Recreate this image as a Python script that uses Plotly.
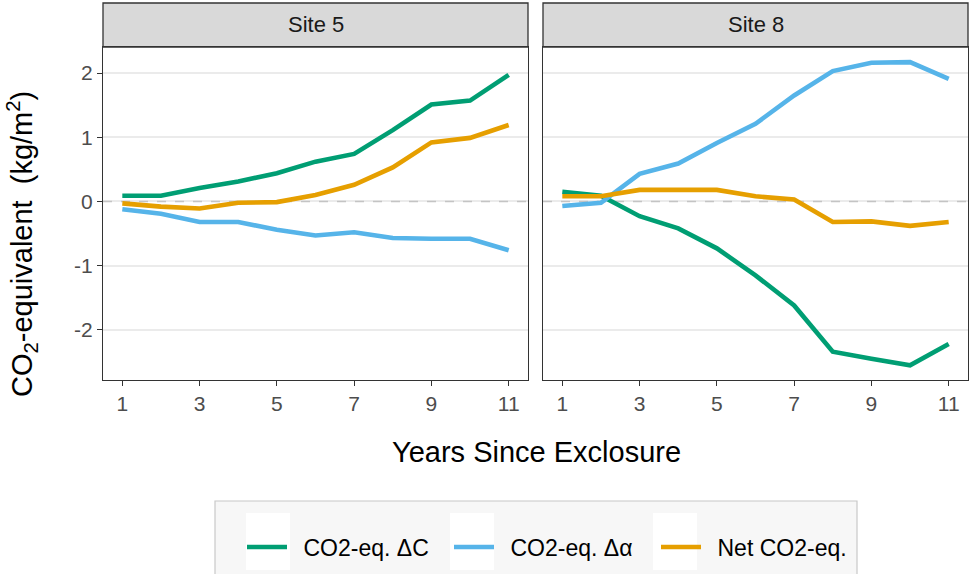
import plotly.graph_objects as go

# Years since exclosure
years = list(range(1, 12))

# Site 5 series (kg CO2-eq per m2)
s5_dc = [0.09, 0.09, 0.21, 0.31, 0.44, 0.62, 0.74, 1.11, 1.51, 1.57, 1.97]
s5_da = [-0.12, -0.19, -0.32, -0.32, -0.44, -0.53, -0.48, -0.57, -0.58, -0.58, -0.76]
s5_net = [-0.03, -0.08, -0.11, -0.02, -0.01, 0.10, 0.26, 0.53, 0.92, 0.99, 1.19]

# Site 8 series
s8_dc = [0.15, 0.09, -0.23, -0.42, -0.73, -1.15, -1.62, -2.34, -2.45, -2.55, -2.22]
s8_da = [-0.07, -0.02, 0.43, 0.59, 0.91, 1.21, 1.65, 2.03, 2.16, 2.17, 1.91]
s8_net = [0.08, 0.08, 0.18, 0.18, 0.18, 0.08, 0.03, -0.32, -0.31, -0.38, -0.32]

sites = ["Site 5", "Site 8"]
series_names = ["CO2-eq. ΔC", "CO2-eq. Δα", "Net CO2-eq."]
colors = ["#009E73", "#56B4E9", "#E69F00"]
x_ticks = [1, 3, 5, 7, 9, 11]
y_ticks = [-2, -1, 0, 1, 2]
y_ticktext = ["-2", "-1", "0", "1", "2"]

W, H = 969, 574
ML, MR, MT, MB = 103, 1, 3, 194
PW = W - ML - MR
PH = H - MT - MB


def px_x(p):
    return (p - ML) / PW


def px_y(p):
    return (H - MB - p) / PH


FONT = "Liberation Sans, Arial, Helvetica, sans-serif"
DARK = "#333333"

panel_top = px_y(47)
dom1 = [0, px_x(528)]
dom2 = [px_x(543), 1]

fig = go.Figure()

data = [[s5_dc, s5_da, s5_net], [s8_dc, s8_da, s8_net]]
for i, site_data in enumerate(data):
    xa = "x" if i == 0 else "x2"
    ya = "y" if i == 0 else "y2"
    # dashed zero reference line
    fig.add_trace(go.Scatter(
        x=[0.5, 11.5], y=[0, 0], mode="lines",
        line=dict(color="#c4c4c4", width=1.6, dash="dash"),
        showlegend=False, hoverinfo="skip", xaxis=xa, yaxis=ya))
    for name, vals, col in zip(series_names, site_data, colors):
        fig.add_trace(go.Scatter(
            x=years, y=vals, mode="lines", name="\u2002" + name,
            line=dict(color=col, width=4.6),
            showlegend=(i == 0), legendgroup=name,
            xaxis=xa, yaxis=ya))

axis_common = dict(
    showline=True, mirror=True, linecolor=DARK, linewidth=1.3,
    ticklen=5, tickwidth=1.3, tickcolor=DARK,
    tickfont=dict(family=FONT, size=21, color="#4d4d4d"),
    zeroline=False,
)

fig.update_layout(
    xaxis=dict(domain=dom1, range=[0.5, 11.5], tickvals=x_ticks, ticks="outside",
               showgrid=False, anchor="y", **axis_common),
    xaxis2=dict(domain=dom2, range=[0.5, 11.5], tickvals=x_ticks, ticks="outside",
                showgrid=False, anchor="y2", **axis_common),
    yaxis=dict(domain=[0, panel_top], range=[-2.78, 2.405], tickvals=y_ticks,
               ticktext=y_ticktext, ticks="outside",
               showgrid=True, gridcolor="#ebebeb", gridwidth=1.5,
               anchor="x", **axis_common),
    yaxis2=dict(domain=[0, panel_top], range=[-2.78, 2.405], tickvals=y_ticks,
                showgrid=True, gridcolor="#ebebeb", gridwidth=1.5,
                showticklabels=False, ticks="", anchor="x2", **axis_common),
)

shapes = []
annotations = []
# facet strips
for dom, site in zip([dom1, dom2], sites):
    shapes.append(dict(type="rect", xref="paper", yref="paper",
                       x0=dom[0], x1=dom[1], y0=panel_top, y1=px_y(3),
                       fillcolor="#d9d9d9", line=dict(color=DARK, width=1.3),
                       layer="below"))
    annotations.append(dict(text=site, xref="paper", yref="paper",
                            x=(dom[0] + dom[1]) / 2, y=(panel_top + px_y(3)) / 2,
                            xanchor="center", yanchor="middle", showarrow=False,
                            font=dict(family=FONT, size=22, color="#1a1a1a")))

# legend panel background with white key boxes
shapes.append(dict(type="rect", xref="paper", yref="paper",
                   x0=px_x(215), x1=px_x(857), y0=px_y(580), y1=px_y(501),
                   fillcolor="#f7f7f7", line=dict(color="#c8c8c8", width=1.2),
                   layer="below"))
for kc in [268, 472, 675]:
    shapes.append(dict(type="rect", xref="paper", yref="paper",
                       x0=px_x(kc - 22), x1=px_x(kc + 22), y0=px_y(570), y1=px_y(513),
                       fillcolor="white", line=dict(width=0), layer="below"))

# axis titles
annotations.append(dict(text="Years Since Exclosure", xref="paper", yref="paper",
                        x=px_x(536), y=px_y(452), xanchor="center", yanchor="middle",
                        showarrow=False,
                        font=dict(family=FONT, size=29, color="black")))
annotations.append(dict(text="CO<sub>2</sub>-equivalent\u00a0\u00a0(kg/m<sup>2</sup>)",
                        xref="paper", yref="paper",
                        x=px_x(22), y=px_y(244), xanchor="center", yanchor="middle",
                        textangle=-90, showarrow=False,
                        font=dict(family=FONT, size=29, color="black")))

fig.update_layout(
    width=W, height=H,
    margin=dict(l=ML, r=MR, t=MT, b=MB),
    paper_bgcolor="white", plot_bgcolor="white",
    shapes=shapes, annotations=annotations,
    legend=dict(orientation="h", x=px_x(242), xanchor="left",
                y=px_y(547), yanchor="middle",
                bgcolor="rgba(0,0,0,0)",
                font=dict(family=FONT, size=23, color="black"),
                itemwidth=40, entrywidth=152, entrywidthmode="pixels"),
    showlegend=True,
)

fig.write_html("out.html")
